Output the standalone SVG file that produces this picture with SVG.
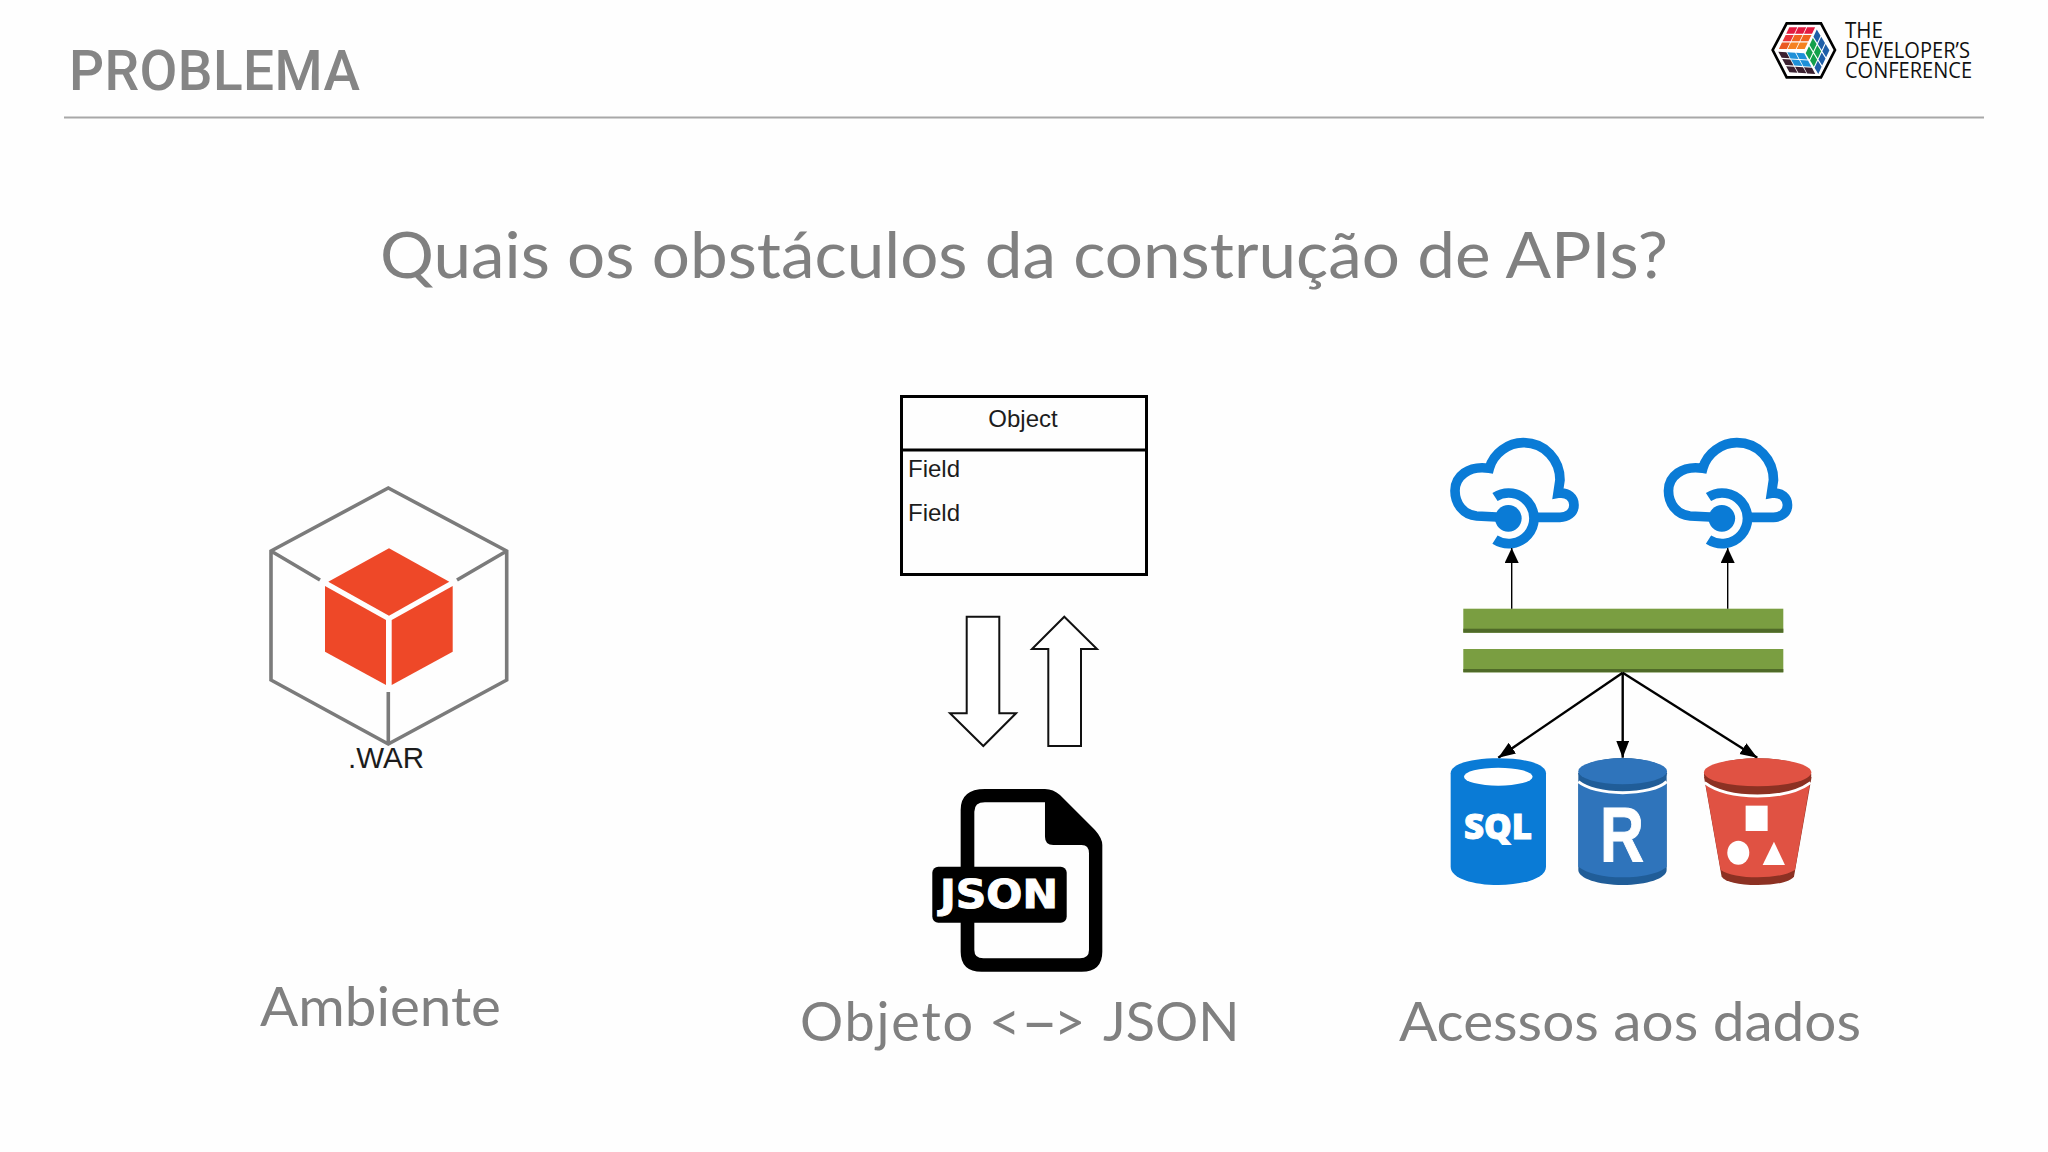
<svg xmlns="http://www.w3.org/2000/svg" width="2048" height="1152" viewBox="0 0 2048 1152">
<style>
.cap{font-family:"Lato","Noto Sans",sans-serif;fill:#808080}
.ar{font-family:"Liberation Sans",Arial,sans-serif;fill:#1c1c1c}
.logo{font-family:"Open Sans","Noto Sans",sans-serif;font-size:21px;fill:#111}
.wire{stroke:#000;fill:none}
.cubeline{fill:none;stroke:#7b7b7b;stroke-width:3.600;stroke-linejoin:miter}
.red{fill:#ee4828}
.blk{fill:none;stroke:#000}
.wh{fill:#fff}
</style>
<defs>
<marker id="h" markerUnits="userSpaceOnUse" markerWidth="16" markerHeight="16" refX="15" refY="7" orient="auto"><path d="M0 0L15 7L0 14Z" fill="#000"/></marker>
<marker id="h2" markerUnits="userSpaceOnUse" markerWidth="18" markerHeight="14" refX="17" refY="6.5" orient="auto"><path d="M0 0L17 6.5L0 13Z" fill="#000"/></marker>
<g id="cloud" transform="scale(.3333)">
<path d="M200 291L140 288C100 285 75 250 75 212C75 170 115 135 178 145C190 100 235 68 280 68C345 68 390 120 390 180L384 220C415 215 432 235 432 255C432 280 410 292 390 292L320 292" fill="none" stroke="#0a7bd6" stroke-width="29"/>
<path d="M195 231A76 76 0 1 1 195 359" fill="none" stroke="#0a7bd6" stroke-width="29"/>
<circle cx="235" cy="295" r="40" fill="#0a7bd6"/>
</g>
</defs>
<rect width="2048" height="1152" fill="#fefefe"/>
<g id="header">
<text x="69" y="89.500" textLength="291" style="font-family:Roboto,'Liberation Sans',sans-serif;font-weight:500;font-size:55px;fill:#858585">PROBLEMA</text>
<rect x="64" y="116.500" width="1920" height="2" fill="#a8a8a8"/>
</g>
<g id="logo">
<g transform="translate(1740 0) scale(.3333)">
<polygon points="140,70 243,70 285,150 243,232 140,232 98,150" fill="#fff" stroke="#000" stroke-width="8"/>
<g transform="matrix(26.700 0 -11 22.700 148 82)">
<rect x="0" y="0" width=".9" height=".85" fill="#e31b3f"/><rect x="1" y="0" width=".9" height=".85" fill="#e31b3f"/><rect x="2" y="0" width=".9" height=".85" fill="#e31b3f"/>
<rect x="0" y="1" width=".9" height=".85" fill="#e8343a"/><rect x="1" y="1" width=".9" height=".85" fill="#f0641f"/><rect x="2" y="1" width=".9" height=".85" fill="#f0641f"/>
<rect x="0" y="2" width=".9" height=".85" fill="#ea5a24"/><rect x="1" y="2" width=".9" height=".85" fill="#f58220"/><rect x="2" y="2" width=".9" height=".85" fill="#f58220"/>
</g>
<g transform="matrix(11.700 -25 13.300 21.700 197 160)">
<rect x="0" y="0" width=".85" height=".85" fill="#13a04b"/><rect x="0" y="1" width=".85" height=".85" fill="#13a04b"/><rect x="0" y="2" width=".85" height=".85" fill="#1f5fa8"/>
<rect x="1" y="0" width=".85" height=".85" fill="#13a04b"/><rect x="1" y="1" width=".85" height=".85" fill="#13a04b"/><rect x="1" y="2" width=".85" height=".85" fill="#1f5fa8"/>
<rect x="2" y="0" width=".85" height=".85" fill="#1f5fa8"/><rect x="2" y="1" width=".85" height=".85" fill="#1f5fa8"/><rect x="2" y="2" width=".85" height=".85" fill="#1f5fa8"/>
</g>
<g transform="matrix(26.700 1.700 11.700 21.700 115 155)">
<rect x="0" y="0" width=".9" height=".85" fill="#3a2030"/><rect x="1" y="0" width=".9" height=".85" fill="#1e90d8"/><rect x="2" y="0" width=".9" height=".85" fill="#1e90d8"/>
<rect x="0" y="1" width=".9" height=".85" fill="#3a2030"/><rect x="1" y="1" width=".9" height=".85" fill="#1e90d8"/><rect x="2" y="1" width=".9" height=".85" fill="#1e90d8"/>
<rect x="0" y="2" width=".9" height=".85" fill="#3a2030"/><rect x="1" y="2" width=".9" height=".85" fill="#3a2030"/><rect x="2" y="2" width=".9" height=".85" fill="#3a2030"/>
</g>
</g>
<text class="logo" x="1845" y="37.500" textLength="38" lengthAdjust="spacingAndGlyphs">THE</text>
<text class="logo" x="1845" y="57.500" textLength="125" lengthAdjust="spacingAndGlyphs">DEVELOPER’S</text>
<text class="logo" x="1845" y="77.500" textLength="127" lengthAdjust="spacingAndGlyphs">CONFERENCE</text>
</g>
<text id="question" class="cap" x="380" y="278" textLength="1288" lengthAdjust="spacingAndGlyphs" font-size="64">Quais os obstáculos da construção de APIs?</text>
<g id="war">
<path class="cubeline" d="M388.300 488L506.700 551V680L388.300 744L271 680V551ZM271 551L320 580M506.700 551L457 580M388.300 692V744"/>
<polygon class="red" points="389,548.300 449.300,581.700 389,615.700 328.300,581.700"/>
<polygon class="red" points="325,586 386,620 386,685 325,651.700"/>
<polygon class="red" points="391.700,620 452.700,586 452.700,651.700 391.700,685"/>
<text class="ar" x="348" y="768" font-size="29" textLength="76" lengthAdjust="spacingAndGlyphs">.WAR</text>
</g>
<text id="label-ambiente" class="cap" x="260" y="1026" font-size="54" textLength="241" lengthAdjust="spacingAndGlyphs">Ambiente</text>
<g id="object">
<rect class="blk" x="901.500" y="396.500" width="245" height="178" stroke-width="3"/>
<path class="blk" d="M901 450H1147" stroke-width="3"/>
<text class="ar" x="1023" y="427" font-size="24" text-anchor="middle">Object</text>
<text class="ar" x="908" y="477" font-size="24">Field</text>
<text class="ar" x="908" y="521" font-size="24">Field</text>
</g>
<g id="convert-arrows">
<polygon points="966.700,616.700 999.300,616.700 999.300,713.300 1016,713.300 983.300,746 950,713.300 966.700,713.300" fill="#fff" stroke="#111" stroke-width="2"/>
<polygon points="1064.300,616.700 1097,649 1081,649 1081,746 1048.300,746 1048.300,649 1032,649" fill="#fff" stroke="#111" stroke-width="2"/>
</g>
<g id="json">
<path transform="translate(910 770) scale(.3333)" fill-rule="evenodd" d="M225 57H405Q430 57 450 75L555 180Q577 205 577 225V545Q577 605 515 605H215Q152 605 152 545V120Q152 57 225 57ZM225 97Q193 97 193 125V540Q193 565 220 565H510Q537 565 537 540V250Q537 225 515 225H430Q405 225 405 200V97Z" fill="#000"/>
<rect x="932.300" y="866.700" width="134.400" height="56" rx="6" fill="#000"/>
<text x="940" y="908" textLength="118" lengthAdjust="spacingAndGlyphs" stroke="#fff" stroke-width="1" style="font-family:'DejaVu Sans',sans-serif;font-weight:700;font-size:39px" class="wh">JSON</text>
</g>
<text id="label-json" class="cap" y="1041" font-size="54"><tspan x="800" letter-spacing="1.800">Objeto</tspan><tspan x="989">&lt;</tspan><tspan x="1021" dy="2.700" font-size="64">–</tspan><tspan x="1054" dy="-2.700">&gt;</tspan><tspan x="1103">JSON</tspan></text>
<g id="cloud-1"><use href="#cloud" transform="translate(1430 420)"/></g>
<g id="cloud-2"><use href="#cloud" transform="translate(1643.500 420)"/></g>
<g id="bar-top"><rect x="1463.300" y="608.700" width="320" height="24" fill="#7a9e41"/><rect x="1463.300" y="628.700" width="320" height="4" fill="#4f6a28"/></g>
<g id="bar-bottom"><rect x="1463.300" y="649" width="320" height="23.300" fill="#7a9e41"/><rect x="1463.300" y="669" width="320" height="3.300" fill="#4f6a28"/></g>
<g id="connectors">
<path class="wire" stroke-width="1.400" marker-end="url(#h)" d="M1511.700 608.700V548"/>
<path class="wire" stroke-width="1.400" marker-end="url(#h)" d="M1727.700 608.700V548"/>
<path class="wire" stroke-width="2.400" marker-end="url(#h2)" d="M1622.700 672.700L1498.300 757.700"/>
<path class="wire" stroke-width="2.400" marker-end="url(#h2)" d="M1622.700 672.700V757.700"/>
<path class="wire" stroke-width="2.400" marker-end="url(#h2)" d="M1622.700 672.700L1757.300 757.700"/>
</g>
<g id="db-sql">
<path transform="translate(1430 670) scale(.3333)" d="M62 310C62 280 130 265 205 265C280 265 348 280 348 310V590C348 625 280 645 205 645C130 645 62 625 62 590Z" fill="#0a7bd6"/>
<ellipse cx="1498.300" cy="776.700" rx="34.300" ry="9" fill="#fff"/>
<text x="1464" y="839" textLength="68" lengthAdjust="spacingAndGlyphs" stroke="#fff" stroke-width="1" style="font-family:'Open Sans',sans-serif;font-weight:800;font-size:35px" class="wh">SQL</text>
</g>
<g id="db-r">
<g transform="translate(1430 670) scale(.3333)">
<path d="M445 310H710V600C710 625 650 645 578 645C505 645 445 625 445 600Z" fill="#205d98"/>
<path d="M445 335C470 355 520 368 578 368C635 368 690 355 710 335V590C690 610 635 622 578 622C520 622 470 610 445 590Z" fill="#2f74bb"/>
<path d="M445 335C470 355 520 368 578 368C635 368 690 355 710 335" fill="none" stroke="#fff" stroke-width="9"/>
<ellipse cx="578" cy="310" rx="133" ry="46" fill="#205d98"/>
<ellipse cx="578" cy="304" rx="133" ry="39" fill="#2f74bb"/>
</g>
<text x="1600" y="861" font-size="78" textLength="44" lengthAdjust="spacingAndGlyphs" stroke="#fff" stroke-width="1" style="font-family:'Liberation Sans',sans-serif;font-weight:700" class="wh">R</text>
</g>
<g id="db-bucket">
<g transform="translate(1430 670) scale(.3333)">
<path d="M822 320H1145L1092 620C1080 635 1040 645 983 645C925 645 885 635 875 620Z" fill="#8c3123"/>
<path d="M826 340C860 365 920 378 983 378C1045 378 1105 365 1140 340L1095 600C1070 615 1030 622 983 622C935 622 895 615 872 600Z" fill="#e05243"/>
<path d="M824 338C860 365 920 378 983 378C1045 378 1105 365 1142 338" fill="none" stroke="#fff" stroke-width="9"/>
<ellipse cx="983" cy="315" rx="161" ry="50" fill="#8c3123"/>
<ellipse cx="983" cy="307" rx="161" ry="42" fill="#e05243"/>
<rect x="947" y="407" width="66" height="76" fill="#fff"/>
<ellipse cx="925" cy="548" rx="33" ry="36" fill="#fff"/>
<polygon points="1032,515 1065,585 998,585" fill="#fff"/>
</g>
</g>
<text id="label-dados" class="cap" x="1399" y="1041" font-size="54" textLength="462" lengthAdjust="spacingAndGlyphs">Acessos aos dados</text>
</svg>
